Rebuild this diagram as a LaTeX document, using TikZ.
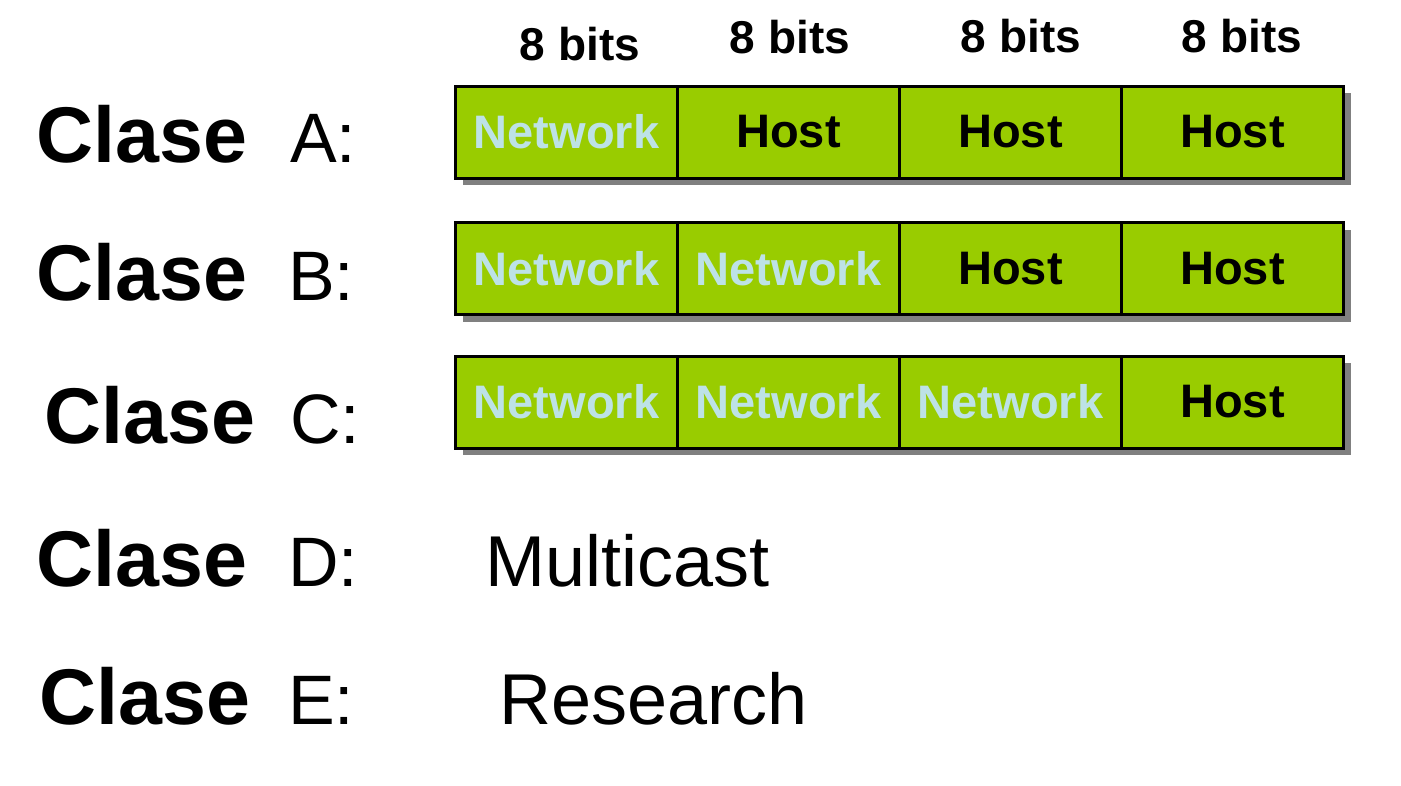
\documentclass[tikz,border=0pt]{standalone}
\usepackage{fontspec}
\setmainfont{Liberation Sans}
\usepackage{xcolor}
\usetikzlibrary{positioning, shadows}

\definecolor{netgreen}{HTML}{99CC00}
\definecolor{netblue}{HTML}{BDE2E6}
\definecolor{shadowgray}{HTML}{808080}

\tikzset{
	cell/.style = {draw, line width = 3pt, fill = netgreen, minimum width = 222pt, minimum height = 92pt, inner sep = 0pt, outer sep = 0pt, font = \fontsize{47}{47}\selectfont\bfseries, copy shadow = {shadow xshift = 7pt, shadow yshift = -7pt, draw = none, fill = shadowgray}},
	net/.style = {cell, text = netblue},
	host/.style = {cell, text = black},
	bits/.style = {anchor = base, inner sep = 0pt, font = \fontsize{46}{46}\selectfont\bfseries},
	clase/.style = {anchor = base west, inner sep = 0pt, font = \fontsize{79}{79}\selectfont\bfseries},
	letra/.style = {anchor = base west, inner sep = 0pt, font = \fontsize{70}{70}\selectfont},
	uso/.style = {anchor = base west, inner sep = 0pt, font = \fontsize{72}{72}\selectfont}
}

\begin{document}
\begin{tikzpicture}[x = 1pt, y = -1pt]
		%page
		\fill [white] (0,0) rectangle (1401,785);
		
		%variables
		\def\xcol{566.5};
		
		%field widths
		\node [bits] (bit1) at (580,60) {8 bits};
		\node [bits] (bit2) at (790,53) {8 bits};
		\node [bits] (bit3) at (1021,52) {8 bits};
		\node [bits] (bit4) at (1242,52) {8 bits};
		
		%class A
		\node [clase] (clA) at (36,162) {Clase};
		\node [letra] (ltA) at (290,162) {A:};
		\node [net] (a1) at (\xcol,132) {Network};
		\node [host, right = 0pt of a1] (a2) {Host};
		\node [host, right = 0pt of a2] (a3) {Host};
		\node [host, right = 0pt of a3] (a4) {Host};
		
		%class B
		\node [clase] (clB) at (36,300) {Clase};
		\node [letra] (ltB) at (288,300) {B:};
		\node [net] (b1) at (\xcol,268.5) {Network};
		\node [net, right = 0pt of b1] (b2) {Network};
		\node [host, right = 0pt of b2] (b3) {Host};
		\node [host, right = 0pt of b3] (b4) {Host};
		
		%class C
		\node [clase] (clC) at (44,443) {Clase};
		\node [letra] (ltC) at (290,443) {C:};
		\node [net] (c1) at (\xcol,402) {Network};
		\node [net, right = 0pt of c1] (c2) {Network};
		\node [net, right = 0pt of c2] (c3) {Network};
		\node [host, right = 0pt of c3] (c4) {Host};
		
		%class D
		\node [clase] (clD) at (36,586) {Clase};
		\node [letra] (ltD) at (288,586) {D:};
		\node [uso] (usD) at (485,586) {Multicast};
		
		%class E
		\node [clase] (clE) at (39,724) {Clase};
		\node [letra] (ltE) at (288,724) {E:};
		\node [uso] (usE) at (499,724) {Research};
	\end{tikzpicture}
\end{document}
